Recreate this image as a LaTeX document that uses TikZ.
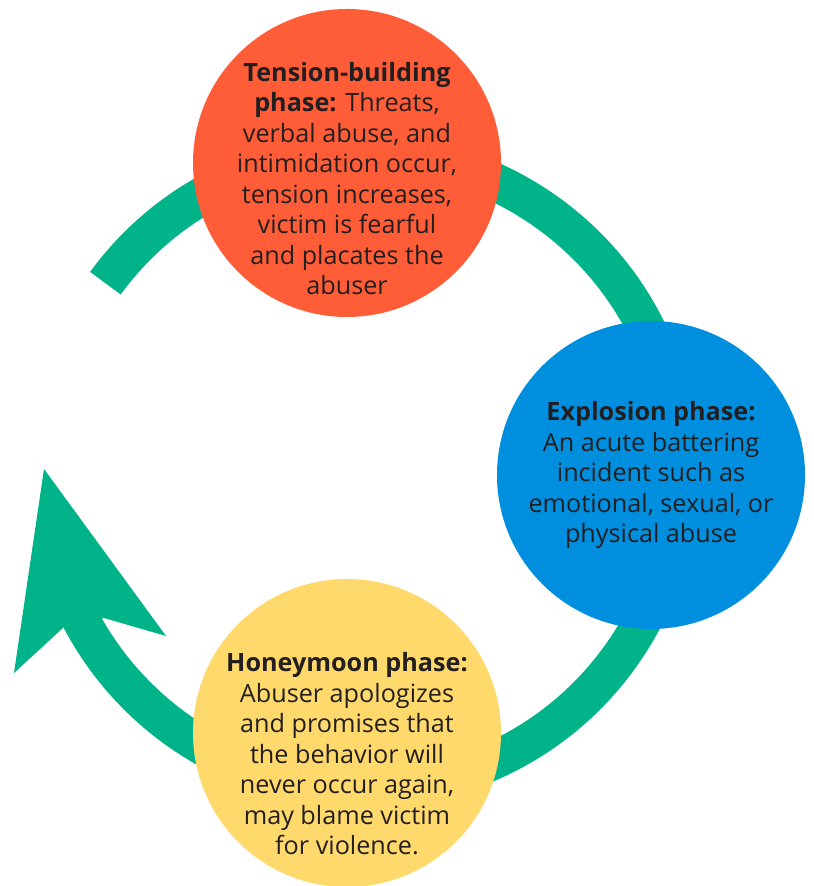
\documentclass[tikz,border=0pt]{standalone}
\usepackage{fontspec}
\setmainfont{Open Sans}
\usetikzlibrary{positioning}
\definecolor{ringgreen}{HTML}{00B388}
\definecolor{tensionorange}{HTML}{FF5D37}
\definecolor{explosionblue}{HTML}{008FDF}
\definecolor{honeyyellow}{HTML}{FFD96B}
\definecolor{inkdark}{HTML}{231F20}

\begin{document}
\begin{tikzpicture}[x=0.5pt, y=0.5pt,
    phase/.style = {circle, fill=#1, minimum size=154pt, inner sep=0pt},
    phasetext/.style = {align=center, text=inkdark, inner sep=0pt,
      font=\fontsize{12.6}{15.25}\selectfont}]
  \useasboundingbox (0,0) rectangle (813,886);

  % the cycle ring and its arrow head
  \coordinate (hub) at (362,415);
  \draw[ringgreen, line width=19pt] (hub) ++(143.8:318) arc[start angle=143.8, end angle=-153, radius=318];
  \fill[ringgreen] (44,417) -- (166,250) -- (104,268) -- (64,259) -- (14,213) -- cycle;

  % the three phases
  \node[phase=tensionorange] (tension) at (347,723) {};
  \node[phase=explosionblue] (explosion) at (651,411) {};
  \node[phase=honeyyellow] (honeymoon) at (347,153) {};

  \node[phasetext] (tensiontext) at ([yshift=-7.75pt]tension.center)
    {\textbf{Tension-building}\\ \textbf{phase:} Threats,\\ verbal abuse, and\\ intimidation occur,\\
     tension increases,\\ victim is fearful\\ and placates the\\ abuser};
  \node[phasetext] (explosiontext) at (explosion.center)
    {\textbf{Explosion phase:}\\ An acute battering\\ incident such as\\ emotional, sexual, or\\ physical abuse};
  \node[phasetext] (honeymoontext) at ([yshift=-10.5pt]honeymoon.center)
    {\textbf{Honeymoon phase:}\\ Abuser apologizes\\ and promises that\\ the behavior will\\
     never occur again,\\ may blame victim\\ for violence.};
\end{tikzpicture}
\end{document}
